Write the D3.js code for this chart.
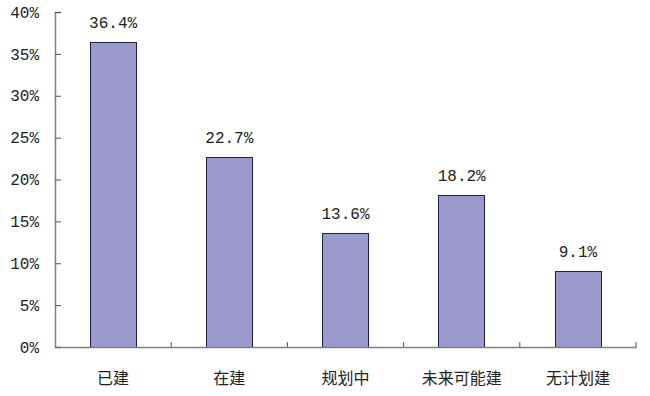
<!DOCTYPE html>
<html>
<head>
<meta charset="utf-8">
<script src="https://cdn.jsdelivr.net/npm/d3@7"></script>
<style>
  body { margin: 0; background: #fff; }
</style>
</head>
<body>
<div id="chart"></div>
<script>
var categories = ["已建", "在建", "规划中", "未来可能建", "无计划建"];
var values = [36.4, 22.7, 13.6, 18.2, 9.1];
var yTicks = [0, 5, 10, 15, 20, 25, 30, 35, 40];

var width = 650, height = 396;
var plotLeft = 55, plotRight = 636, plotTop = 12, plotBottom = 347;

var svg = d3.select("#chart").append("svg")
    .attr("width", width)
    .attr("height", height);

var x = d3.scaleBand()
    .domain(categories)
    .range([plotLeft, plotRight])
    .paddingInner(0.6)
    .paddingOuter(0.3);

var xb = d3.scaleBand().domain(categories).range([plotLeft, plotRight]);

var y = d3.scaleLinear()
    .domain([0, 40])
    .range([plotBottom, plotTop]);

// bars
svg.selectAll("rect.bar")
   .data(values)
   .enter()
   .append("rect")
   .attr("class", "bar")
   .attr("x", function(d, i) { return Math.round(x(categories[i])) + 0.5; })
   .attr("y", function(d) { return Math.round(y(d)) + 0.5; })
   .attr("width", Math.round(x.bandwidth()))
   .attr("height", function(d) { return plotBottom - Math.round(y(d)); })
   .attr("fill", "#9999cc")
   .attr("stroke", "#1f1f4f")
   .attr("stroke-width", 1);

// value labels
svg.selectAll("text.val")
   .data(values)
   .enter()
   .append("text")
   .attr("class", "val")
   .attr("x", function(d, i) { return x(categories[i]) + x.bandwidth() / 2; })
   .attr("y", function(d) { return y(d) - 14; })
   .attr("text-anchor", "middle")
   .style("font-family", "'Liberation Mono', monospace")
   .style("font-size", "16px")
   .attr("fill", "#222")
   .text(function(d) { return d.toFixed(1) + "%"; });

// y axis
var yAxis = d3.axisLeft(y)
    .tickValues(yTicks)
    .tickSize(-6)
    .tickPadding(16)
    .tickFormat(function(d) { return d + "%"; });

var gy = svg.append("g")
    .attr("transform", "translate(" + plotLeft + ",0)")
    .call(yAxis);
gy.select(".domain").attr("stroke", "#808080").attr("stroke-width", 1.5);
gy.selectAll(".tick line").attr("stroke", "#555");
gy.selectAll(".tick text")
  .style("font-family", "'Liberation Mono', monospace")
  .style("font-size", "16px")
  .attr("fill", "#222");

// x axis
var gx = svg.append("g")
    .attr("transform", "translate(0," + plotBottom + ")")
    .call(d3.axisBottom(xb).tickSize(0).tickPadding(26));
gx.select(".domain").attr("stroke", "#808080").attr("stroke-width", 1.5);
gx.selectAll(".tick text")
  .style("font-family", "'Noto Sans CJK SC', sans-serif")
  .style("font-size", "16px")
  .attr("fill", "#222");

// category boundary ticks
var bounds = categories.map(function(c) { return xb(c) + xb.bandwidth(); });
svg.selectAll("line.sep")
   .data(bounds)
   .enter()
   .append("line")
   .attr("class", "sep")
   .attr("x1", function(d) { return d; })
   .attr("x2", function(d) { return d; })
   .attr("y1", plotBottom)
   .attr("y2", plotBottom - 5)
   .attr("stroke", "#555");
</script>
</body>
</html>
